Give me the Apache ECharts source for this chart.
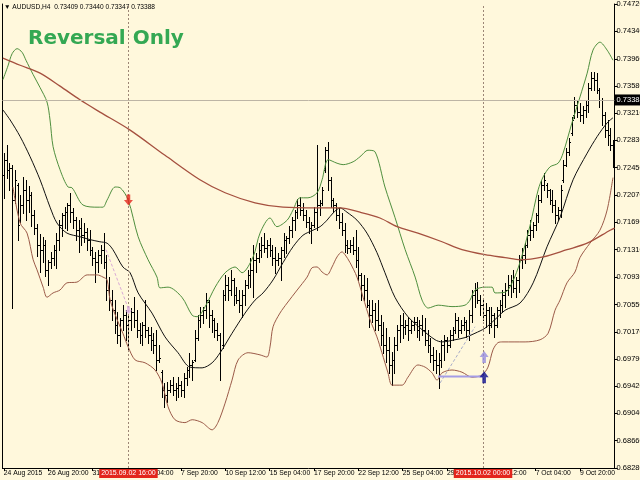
<!DOCTYPE html>
<html><head><meta charset="utf-8">
<style>html,body{margin:0;padding:0;background:#FFF8DC}#c{width:640px;height:480px}</style>
<script src="https://cdn.jsdelivr.net/npm/echarts/dist/echarts.min.js"></script>
</head><body><div id="c"></div>
<script>
// ---- price bars (H4, bar index 1..221) ----
const opens = [
0.7235,0.7256,0.7242,0.7244,0.7200,0.7221,0.7172,0.7193,0.7214,0.7200,
0.7207,0.7179,0.7161,0.7138,0.7131,0.7138,0.7103,0.7114,0.7120,0.7131,
0.7145,0.7165,0.7179,0.7183,0.7193,0.7183,0.7172,0.7158,0.7161,0.7151,
0.7156,0.7145,0.7131,0.7120,0.7114,0.7124,0.7131,0.7114,0.7075,0.7061,
0.7047,0.7027,0.7013,0.7034,0.7040,0.7027,0.7034,0.7045,0.7034,0.7020,
0.7013,0.7027,0.7020,0.7013,0.7006,0.6999,0.6978,0.6961,0.6936,0.6929,
0.6936,0.6943,0.6936,0.6939,0.6943,0.6936,0.6953,0.6964,0.6971,0.6978,
0.7008,0.7034,0.7040,0.7047,0.7058,0.7040,0.7034,0.7020,0.7013,0.6999,
0.7068,0.7082,0.7075,0.7089,0.7068,0.7061,0.7054,0.7068,0.7082,0.7096,
0.7103,0.7117,0.7120,0.7131,0.7138,0.7133,0.7138,0.7131,0.7120,0.7117,
0.7120,0.7131,0.7145,0.7147,0.7158,0.7172,0.7183,0.7193,0.7186,0.7179,
0.7170,0.7161,0.7165,0.7183,0.7193,0.7196,0.7242,0.7269,0.7228,0.7200,
0.7193,0.7179,0.7170,0.7158,0.7138,0.7133,0.7138,0.7131,0.7117,0.7096,
0.7082,0.7075,0.7054,0.7040,0.7047,0.7034,0.7027,0.7013,0.6999,0.6992,
0.6971,0.6978,0.6999,0.7020,0.7027,0.7024,0.7027,0.7020,0.7027,0.7031,
0.7020,0.7027,0.7020,0.7006,0.6999,0.6985,0.6978,0.6971,0.6978,0.6999,
0.7006,0.6999,0.7013,0.7020,0.7034,0.7020,0.7027,0.7031,0.7020,0.7040,
0.7068,0.7075,0.7061,0.7054,0.7040,0.7047,0.7027,0.7040,0.7027,0.7047,
0.7054,0.7068,0.7075,0.7082,0.7089,0.7078,0.7089,0.7117,0.7124,0.7138,
0.7151,0.7158,0.7165,0.7179,0.7200,0.7221,0.7221,0.7214,0.7200,0.7193,
0.7179,0.7186,0.7228,0.7249,0.7267,0.7293,0.7318,0.7332,0.7322,0.7318,
0.7325,0.7332,0.7355,0.7369,0.7367,0.7353,0.7339,0.7318,0.7297,0.7290,0.7276];
const highs = [
0.7265,0.7276,0.7251,0.7249,0.7242,0.7224,0.7207,0.7232,0.7228,0.7219,
0.7211,0.7186,0.7167,0.7153,0.7149,0.7145,0.7117,0.7128,0.7138,0.7154,
0.7172,0.7182,0.7190,0.7196,0.7210,0.7189,0.7176,0.7172,0.7175,0.7168,
0.7161,0.7158,0.7135,0.7128,0.7131,0.7138,0.7154,0.7124,0.7093,0.7075,
0.7061,0.7045,0.7036,0.7054,0.7047,0.7040,0.7050,0.7065,0.7047,0.7029,
0.7031,0.7061,0.7024,0.7024,0.7015,0.7020,0.6999,0.6964,0.6946,0.6947,
0.6950,0.6954,0.6946,0.6954,0.6949,0.6960,0.6968,0.6988,0.6978,0.7020,
0.7040,0.7051,0.7051,0.7071,0.7061,0.7047,0.7036,0.7029,0.7015,0.7075,
0.7096,0.7093,0.7103,0.7092,0.7079,0.7075,0.7075,0.7089,0.7103,0.7120,
0.7138,0.7126,0.7140,0.7149,0.7154,0.7145,0.7147,0.7138,0.7135,0.7126,
0.7135,0.7154,0.7150,0.7164,0.7176,0.7186,0.7201,0.7204,0.7196,0.7186,
0.7176,0.7170,0.7190,0.7276,0.7200,0.7218,0.7274,0.7281,0.7232,0.7203,
0.7196,0.7189,0.7182,0.7168,0.7145,0.7145,0.7149,0.7158,0.7135,0.7099,
0.7096,0.7092,0.7061,0.7061,0.7057,0.7061,0.7040,0.7031,0.7022,0.7010,
0.6989,0.7010,0.7027,0.7040,0.7043,0.7034,0.7038,0.7034,0.7038,0.7038,
0.7034,0.7040,0.7036,0.7020,0.7008,0.6996,0.6992,0.6988,0.7006,0.7013,
0.7010,0.7020,0.7024,0.7043,0.7038,0.7034,0.7038,0.7034,0.7047,0.7075,
0.7085,0.7086,0.7068,0.7061,0.7057,0.7051,0.7051,0.7043,0.7051,0.7061,
0.7075,0.7085,0.7096,0.7096,0.7103,0.7093,0.7124,0.7133,0.7140,0.7158,
0.7172,0.7170,0.7182,0.7207,0.7228,0.7238,0.7224,0.7215,0.7214,0.7200,
0.7190,0.7221,0.7256,0.7272,0.7286,0.7315,0.7343,0.7339,0.7335,0.7330,
0.7339,0.7362,0.7378,0.7378,0.7376,0.7355,0.7342,0.7322,0.7311,0.7300,0.7283];
const lows = [
0.7203,0.7231,0.7214,0.7050,0.7196,0.7145,0.7170,0.7182,0.7172,0.7183,
0.7164,0.7153,0.7122,0.7100,0.7114,0.7095,0.7082,0.7106,0.7110,0.7106,
0.7131,0.7150,0.7161,0.7158,0.7170,0.7161,0.7145,0.7128,0.7138,0.7142,
0.7131,0.7124,0.7110,0.7086,0.7100,0.7113,0.7106,0.7061,0.7047,0.7034,
0.7015,0.7002,0.6997,0.7020,0.7006,0.6992,0.7020,0.7024,0.7010,0.7002,
0.6999,0.7010,0.7002,0.6992,0.6988,0.6964,0.6975,0.6927,0.6913,0.6920,
0.6934,0.6929,0.6922,0.6927,0.6928,0.6927,0.6943,0.6954,0.6950,0.6976,
0.7005,0.7024,0.7029,0.7036,0.7024,0.7017,0.7010,0.7006,0.6950,0.6995,
0.7061,0.7061,0.7068,0.7054,0.7057,0.7045,0.7038,0.7054,0.7078,0.7079,
0.7065,0.7100,0.7114,0.7121,0.7128,0.7121,0.7122,0.7110,0.7099,0.7110,
0.7089,0.7121,0.7126,0.7140,0.7149,0.7158,0.7175,0.7179,0.7172,0.7163,
0.7154,0.7140,0.7163,0.7158,0.7179,0.7193,0.7239,0.7214,0.7190,0.7183,
0.7172,0.7161,0.7151,0.7128,0.7126,0.7128,0.7125,0.7107,0.7089,0.7061,
0.7061,0.7051,0.7024,0.7031,0.7020,0.7020,0.6999,0.6988,0.6975,0.6960,
0.6943,0.6960,0.6992,0.7003,0.7008,0.7014,0.7006,0.7015,0.7020,0.7010,
0.7006,0.7013,0.6999,0.6989,0.6975,0.6964,0.6960,0.6939,0.6968,0.6978,
0.6989,0.6996,0.7006,0.7015,0.7010,0.7015,0.7020,0.7010,0.7006,0.7031,
0.7051,0.7057,0.7040,0.7034,0.7024,0.7015,0.7024,0.7010,0.7024,0.7038,
0.7045,0.7051,0.7068,0.7065,0.7072,0.7065,0.7072,0.7106,0.7113,0.7135,
0.7145,0.7149,0.7158,0.7170,0.7197,0.7214,0.7204,0.7194,0.7183,0.7168,
0.7172,0.7176,0.7225,0.7247,0.7263,0.7290,0.7314,0.7315,0.7310,0.7307,
0.7315,0.7322,0.7353,0.7353,0.7349,0.7329,0.7304,0.7287,0.7276,0.7269,0.7246];
const closes = [
0.7256,0.7242,0.7244,0.7200,0.7228,0.7165,0.7193,0.7214,0.7200,0.7207,
0.7179,0.7161,0.7138,0.7131,0.7138,0.7103,0.7114,0.7120,0.7131,0.7145,
0.7165,0.7179,0.7183,0.7193,0.7183,0.7172,0.7158,0.7161,0.7151,0.7156,
0.7145,0.7131,0.7120,0.7114,0.7124,0.7131,0.7114,0.7075,0.7061,0.7047,
0.7027,0.7013,0.7034,0.7040,0.7027,0.7034,0.7045,0.7034,0.7020,0.7013,
0.7027,0.7020,0.7013,0.7006,0.6999,0.6978,0.6981,0.6936,0.6929,0.6936,
0.6943,0.6936,0.6939,0.6943,0.6936,0.6953,0.6964,0.6971,0.6975,0.7008,
0.7034,0.7040,0.7047,0.7061,0.7040,0.7034,0.7020,0.7013,0.6992,0.7068,
0.7082,0.7075,0.7089,0.7068,0.7061,0.7054,0.7068,0.7082,0.7096,0.7103,
0.7117,0.7120,0.7131,0.7138,0.7133,0.7138,0.7131,0.7120,0.7117,0.7120,
0.7131,0.7145,0.7147,0.7158,0.7172,0.7183,0.7193,0.7186,0.7179,0.7170,
0.7161,0.7165,0.7183,0.7193,0.7196,0.7214,0.7269,0.7228,0.7200,0.7193,
0.7179,0.7170,0.7158,0.7138,0.7133,0.7138,0.7131,0.7117,0.7096,0.7082,
0.7075,0.7054,0.7040,0.7047,0.7034,0.7027,0.7013,0.6999,0.6992,0.6971,
0.6978,0.6999,0.7020,0.7027,0.7024,0.7027,0.7020,0.7027,0.7031,0.7020,
0.7027,0.7020,0.7006,0.6999,0.6985,0.6978,0.6971,0.6978,0.6999,0.7006,
0.6999,0.7013,0.7020,0.7034,0.7020,0.7027,0.7031,0.7020,0.7040,0.7068,
0.7075,0.7061,0.7054,0.7040,0.7047,0.7027,0.7040,0.7027,0.7047,0.7054,
0.7068,0.7075,0.7082,0.7089,0.7078,0.7089,0.7117,0.7124,0.7138,0.7151,
0.7158,0.7165,0.7179,0.7200,0.7221,0.7228,0.7214,0.7200,0.7193,0.7179,
0.7186,0.7214,0.7249,0.7267,0.7281,0.7311,0.7332,0.7322,0.7318,0.7325,
0.7332,0.7355,0.7369,0.7367,0.7353,0.7339,0.7318,0.7297,0.7290,0.7276,0.7256];

// ---- indicator lines: [bar position, price] ----
const upperBand = [[0.7,0.7367],[2.5,0.7386],[4.0,0.7403],[5.8,0.7410],[7.6,0.7405],[9.0,0.7394],[11.6,0.7374],[14.1,0.7356],[16.6,0.7336],[17.7,0.7311],[18.8,0.7274],[21.3,0.7242],[24.2,0.7218],[25.6,0.7217],[29.6,0.7193],[35.0,0.7190],[36.8,0.7190],[38.3,0.7200],[41.2,0.7218],[43.0,0.7217],[45.9,0.7200],[49.5,0.7149],[53.1,0.7117],[56.3,0.7093],[57.4,0.7078],[60.3,0.7079],[65.3,0.7065],[69.0,0.7040],[70.8,0.7038],[73.7,0.7052],[77.3,0.7079],[80.9,0.7099],[84.5,0.7107],[87.0,0.7099],[91.0,0.7121],[93.5,0.7154],[97.1,0.7175],[99.6,0.7163],[103.3,0.7172],[105.4,0.7186],[107.9,0.7203],[110.8,0.7203],[114.1,0.7210],[115.9,0.7228],[118.1,0.7256],[121.3,0.7251],[123.5,0.7249],[127.1,0.7253],[129.6,0.7260],[132.5,0.7269],[135.0,0.7267],[138.6,0.7218],[142.2,0.7176],[145.9,0.7131],[149.5,0.7093],[152.0,0.7061],[154.2,0.7050],[157.8,0.7054],[162.8,0.7052],[167.5,0.7054],[169.3,0.7061],[171.1,0.7075],[174.7,0.7079],[177.3,0.7079],[178.3,0.7071],[182.0,0.7072],[184.5,0.7085],[187.4,0.7114],[191.0,0.7165],[193.9,0.7214],[195.7,0.7232],[198.2,0.7246],[201.1,0.7251],[202.9,0.7265],[206.1,0.7307],[209.0,0.7343],[211.6,0.7376],[213.7,0.7408],[216.2,0.7419],[218.8,0.7408],[220.9,0.7394]];
const middleLine = [[0.7,0.7325],[3.3,0.7311],[6.9,0.7288],[10.5,0.7260],[14.1,0.7228],[17.7,0.7190],[20.2,0.7168],[23.8,0.7154],[28.5,0.7149],[32.1,0.7145],[35.7,0.7142],[38.3,0.7140],[40.4,0.7131],[44.0,0.7107],[46.6,0.7099],[49.5,0.7071],[54.5,0.7043],[59.2,0.7010],[63.9,0.6988],[68.2,0.6968],[72.6,0.6967],[76.2,0.6974],[79.1,0.6988],[83.4,0.7015],[88.1,0.7043],[91.7,0.7061],[94.6,0.7071],[98.2,0.7089],[101.8,0.7113],[105.4,0.7135],[109.0,0.7151],[112.6,0.7158],[115.2,0.7163],[117.7,0.7172],[119.9,0.7182],[122.4,0.7189],[124.9,0.7183],[128.5,0.7172],[132.1,0.7154],[135.7,0.7127],[138.6,0.7099],[142.2,0.7065],[146.9,0.7038],[152.0,0.7020],[156.7,0.7006],[159.2,0.7003],[163.9,0.7006],[167.5,0.7009],[171.1,0.7015],[174.7,0.7022],[178.3,0.7034],[182.0,0.7047],[187.4,0.7057],[192.1,0.7085],[197.1,0.7135],[201.8,0.7176],[206.5,0.7228],[211.6,0.7265],[215.2,0.7288],[218.8,0.7307],[220.9,0.7314]];
const lowerBand = [[4.3,0.7218],[6.9,0.7168],[9.4,0.7154],[11.6,0.7117],[13.0,0.7103],[15.2,0.7079],[16.6,0.7065],[18.8,0.7071],[21.3,0.7075],[23.8,0.7085],[27.4,0.7086],[31.1,0.7096],[34.7,0.7096],[36.8,0.7093],[38.3,0.7089],[39.4,0.7061],[41.9,0.7034],[44.0,0.7015],[45.9,0.6996],[48.4,0.6978],[52.0,0.6974],[55.6,0.6964],[58.1,0.6946],[60.3,0.6913],[62.8,0.6895],[66.4,0.6891],[69.0,0.6895],[72.6,0.6891],[76.2,0.6881],[78.3,0.6891],[80.9,0.6918],[83.4,0.6950],[85.6,0.6978],[89.2,0.6988],[93.5,0.6985],[96.0,0.6982],[97.1,0.6996],[98.2,0.7024],[100.7,0.7043],[103.3,0.7057],[106.9,0.7075],[110.5,0.7093],[112.3,0.7106],[114.1,0.7107],[115.9,0.7100],[117.7,0.7096],[119.5,0.7107],[121.3,0.7121],[123.1,0.7128],[124.2,0.7124],[126.0,0.7113],[128.5,0.7093],[130.7,0.7065],[133.2,0.7034],[135.7,0.7010],[137.5,0.6988],[139.7,0.6960],[141.2,0.6943],[144.8,0.6943],[146.9,0.6954],[150.5,0.6971],[153.1,0.6968],[155.6,0.6960],[157.4,0.6950],[159.2,0.6960],[162.8,0.6964],[166.4,0.6961],[170.0,0.6954],[173.6,0.6957],[175.8,0.6968],[177.6,0.6992],[179.4,0.7002],[181.2,0.7003],[189.2,0.7003],[194.6,0.7006],[197.5,0.7015],[200.0,0.7047],[201.8,0.7061],[204.3,0.7085],[207.2,0.7100],[209.0,0.7120],[212.6,0.7140],[216.2,0.7158],[218.8,0.7186],[220.9,0.7231]];
const longMA = [[0.7,0.7397],[6.9,0.7387],[14.1,0.7376],[21.3,0.7358],[28.5,0.7339],[35.7,0.7322],[46.6,0.7297],[59.2,0.7262],[71.8,0.7228],[80.9,0.7210],[91.7,0.7196],[101.8,0.7190],[114.1,0.7189],[122.4,0.7189],[129.6,0.7183],[136.8,0.7175],[143.0,0.7163],[150.5,0.7154],[159.2,0.7142],[166.4,0.7131],[174.7,0.7124],[182.0,0.7120],[187.4,0.7117],[195.7,0.7121],[204.3,0.7131],[211.6,0.7140],[219.9,0.7158],[221.5,0.7161]];
const pinkDash = [[37.9,0.7131],[45.9,0.7050]];
const grayDash = [[158.5,0.6946],[171.1,0.7024]];
const purpleLevel = [[157.8,0.6955],[174.0,0.6955]];
const sellArrow = [[46,0.7200]];
const sellArrowSmall = [[46,0.7047]];
const buyArrowLight = [[174.4,0.6982]];
const buyArrowDark = [[174.4,0.6954]];

// ---- axes text ----
const priceTicks = [0.68280,0.68660,0.69040,0.69420,0.69790,0.70170,0.70550,0.70930,0.71310,0.71690,0.72070,0.72450,0.72830,0.73210,0.73580,0.73960,0.74340,0.74720];
const labelBars = [1,17,33,49,65,81,97,113,129,145,161,177,193,209];
const labelTexts = ['24 Aug 2015','26 Aug 20:00','31 Aug 12:00','3 Sep 04:00','7 Sep 20:00','10 Sep 12:00','15 Sep 04:00','17 Sep 20:00','22 Sep 12:00','25 Sep 04:00','29 Sep 20:00','2 Oct 12:00','7 Oct 04:00','9 Oct 20:00'];
const markerBars = [46,174];
const markerTexts = ['2015.09.02 16:00','2015.10.02 00:00'];
const bidPrice = 0.73388;
const headerText = '\u25BC AUDUSD,H4  0.73409 0.73440 0.73347 0.73388';
const titleText = 'Reversal Only';

const FONT = "'Liberation Sans Narrow','Liberation Sans',sans-serif";
const ohlc = opens.map((o,i)=>[i+1,o,highs[i],lows[i],closes[i]]);

function renderOHLC(params, api){
  const k = api.value(0);
  const pO = api.coord([k, api.value(1)]);
  const pH = api.coord([k, api.value(2)]);
  const pL = api.coord([k, api.value(3)]);
  const pC = api.coord([k, api.value(4)]);
  const x = Math.round(pH[0]) + 0.5;
  const yo = Math.round(pO[1]) + 0.5, yc = Math.round(pC[1]) + 0.5;
  const st = {stroke:'#000', lineWidth:1};
  return {type:'group', children:[
    {type:'line', shape:{x1:x,y1:Math.round(pH[1]),x2:x,y2:Math.round(pL[1])+1}, style:st},
    {type:'line', shape:{x1:x-1.5,y1:yo,x2:x,y2:yo}, style:st},
    {type:'line', shape:{x1:x,y1:yc,x2:x+1.5,y2:yc}, style:st}
  ]};
}
const downPath = 'path://M3,0 L7,0 L7,6 L10,6 L5,12 L0,6 L3,6 Z';
const upPath = 'path://M5,0 L10,6 L7,6 L7,12 L3,12 L3,6 L0,6 Z';
function lineSeries(data, color, width, type, smooth){
  return {type:'line', data:data, showSymbol:false, symbol:'none', smooth:smooth, silent:true,
    lineStyle:{color:color, width:width, type:type||'solid'}, z:4};
}

const chart = echarts.init(document.getElementById('c'), null, {renderer:'canvas'});
const bidMark = {yAxis:bidPrice, lineStyle:{color:'#bdb5a5', type:'solid', width:1},
  label:{show:true, position:'end', formatter:bidPrice.toFixed(5), backgroundColor:'#000', color:'#fff',
    fontFamily:FONT, fontSize:7.5, padding:[2,2,1,2], distance:0}};
const vMarks = markerBars.map((b,i)=>({xAxis:b, lineStyle:{color:'#9c8676', type:[2,2], width:1},
  label:{show:true, position:'start', formatter:markerTexts[i], backgroundColor:'#e3261c', color:'#fff',
    fontFamily:FONT, fontSize:7, padding:[1,2,1,2], distance:1}}));

const longSeries = lineSeries(longMA, '#a5503f', 1.3, 'solid', 0.3);
longSeries.markLine = {symbol:'none', silent:true, animation:false, precision:5, data:[...vMarks, bidMark]};

chart.setOption({
  animation:false,
  backgroundColor:'#FFF8DC',
  title:[
    {text:headerText, left:4, top:4, padding:0, textStyle:{fontFamily:FONT, fontSize:6.6, fontWeight:'normal', color:'#000'}},
    {text:titleText, left:28, top:29, padding:0, textStyle:{fontFamily:'DejaVu Sans', fontSize:20, fontWeight:'bold', color:'#34a853'}}
  ],
  grid:{left:2.4, right:25.4, top:4, bottom:12, outerBoundsMode:'none', containLabel:false},
  xAxis:{type:'value', min:0.5, max:221.5,
    axisLine:{show:true, onZero:false, lineStyle:{color:'#000', width:1}},
    axisTick:{show:true, customValues:labelBars, length:3, lineStyle:{color:'#000'}},
    axisLabel:{customValues:labelBars, formatter:v=>labelTexts[labelBars.indexOf(v)], align:'left',
      margin:2, fontFamily:FONT, fontSize:6.8, color:'#000', showMinLabel:true, showMaxLabel:true, hideOverlap:false},
    splitLine:{show:false}},
  yAxis:[{type:'value', position:'right', min:0.6828, max:0.7472,
    axisLine:{show:true, lineStyle:{color:'#000', width:1}},
    axisTick:{show:true, customValues:priceTicks, length:3, lineStyle:{color:'#000'}},
    axisLabel:{customValues:priceTicks, formatter:v=>v.toFixed(5), margin:2, fontFamily:FONT, fontSize:7.5, color:'#000'},
    splitLine:{show:false}},
    {type:'value', position:'left', min:0.6828, max:0.7472,
    axisLine:{show:true, lineStyle:{color:'#000', width:1}}, axisTick:{show:false}, axisLabel:{show:false}, splitLine:{show:false}}],
  series:[
    {type:'custom', renderItem:renderOHLC, data:ohlc, encode:{x:0, y:[1,2,3,4]}, clip:true, silent:true, z:3},
    lineSeries(upperBand, '#4f8f3e', 1, 'solid', 0.3),
    lineSeries(lowerBand, '#9b5a48', 1, 'solid', 0.3),
    lineSeries(middleLine, '#111', 1, 'solid', 0.3),
    longSeries,
    lineSeries(pinkDash, '#d9a9d6', 1, [3,2], false),
    lineSeries(grayDash, '#a9adc9', 1, [3,2], false),
    lineSeries(purpleLevel, '#a49ce6', 2, 'solid', false),
    {type:'scatter', data:sellArrow, symbol:downPath, symbolSize:[9,11], itemStyle:{color:'#e3261c'}, silent:true, z:6},
    {type:'scatter', data:sellArrowSmall, symbol:downPath, symbolSize:[7,8], itemStyle:{color:'#d9a9e0'}, silent:true, z:6},
    {type:'scatter', data:buyArrowLight, symbol:upPath, symbolSize:[9,12], itemStyle:{color:'#968ce0'}, silent:true, z:6},
    {type:'scatter', data:buyArrowDark, symbol:upPath, symbolSize:[9,12], itemStyle:{color:'#0b0b8e'}, silent:true, z:6}
  ]
});
</script></body></html>
